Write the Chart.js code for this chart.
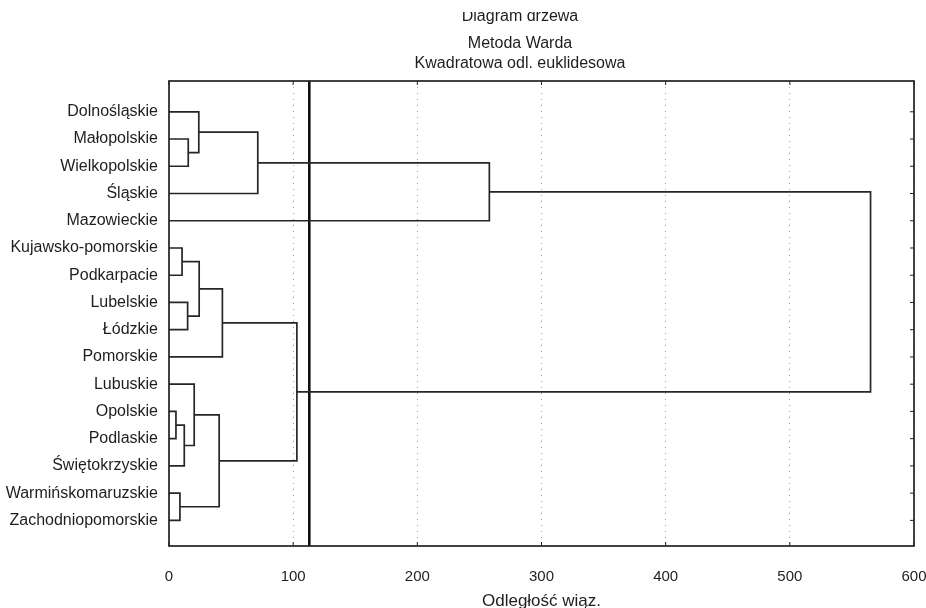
<!DOCTYPE html>
<html>
<head>
<meta charset="utf-8">
<script src="https://cdn.jsdelivr.net/npm/chart.js@4/dist/chart.umd.min.js"></script>
<style>
  body { margin: 0; background: #fff; }
  #wrap { width: 926px; height: 608px; position: relative; }
</style>
</head>
<body>
<div id="wrap"><canvas id="chart"></canvas></div>
<script>
// leaves, top to bottom
const leaves = ['Dolnośląskie', 'Małopolskie', 'Wielkopolskie', 'Śląskie', 'Mazowieckie',
    'Kujawsko-pomorskie', 'Podkarpacie', 'Lubelskie', 'Łódzkie', 'Pomorskie', 'Lubuskie',
    'Opolskie', 'Podlaskie', 'Świętokrzyskie', 'Warmińskomaruzskie', 'Zachodniopomorskie'];

// linkage: merge k creates node 16 + k
const mergeLeft = [11, 14, 5, 16, 7, 1, 10, 0, 18, 22, 24, 23, 26, 27, 29];
const mergeRight = [12, 15, 6, 13, 8, 2, 19, 21, 20, 17, 9, 3, 25, 4, 28];
const mergeHeight = [5.6, 8.8, 10.5, 12.3, 15.0, 15.5, 20.3, 24.0, 24.3, 40.4, 43.0, 71.5, 103, 258, 565];

const cutLevel = 113;
const xTicks = [0, 100, 200, 300, 400, 500, 600];

const titleLines = ['Diagram drzewa', 'Metoda Warda', 'Kwadratowa odl. euklidesowa'];
const xTitle = 'Odległość wiąz.';

const FONT = '"Liberation Sans", Arial, sans-serif';

// node position / height
const pos = leaves.map((_, i) => i);
const hgt = leaves.map(() => 0);
const datasets = [];

mergeLeft.forEach((l, k) => {
    const r = mergeRight[k];
    const h = mergeHeight[k];
    datasets.push({
        data: [
            { x: hgt[l], y: pos[l] },
            { x: h, y: pos[l] },
            { x: h, y: pos[r] },
            { x: hgt[r], y: pos[r] }
        ],
        borderColor: '#262626',
        borderWidth: 1.7
    });
    pos.push((pos[l] + pos[r]) / 2);
    hgt.push(h);
});

datasets.push({
    data: [{ x: cutLevel, y: -1.13 }, { x: cutLevel, y: 15.94 }],
    borderColor: '#111',
    borderWidth: 2.6
});

const framePlugin = {
    id: 'frame',
    afterDatasetsDraw(chart) {
        const { ctx, chartArea: a, scales } = chart;
        ctx.save();
        ctx.strokeStyle = '#222';
        ctx.lineWidth = 1.7;
        ctx.strokeRect(a.left, a.top, a.right - a.left, a.bottom - a.top);
        ctx.lineWidth = 1;
        ctx.beginPath();
        leaves.forEach((_, i) => {
            const y = scales.y.getPixelForValue(i);
            ctx.moveTo(a.right, y);
            ctx.lineTo(a.right - 4, y);
        });
        xTicks.forEach(v => {
            const x = scales.x.getPixelForValue(v);
            ctx.moveTo(x, a.top);
            ctx.lineTo(x, a.top + 4);
            ctx.moveTo(x, a.bottom);
            ctx.lineTo(x, a.bottom - 4);
        });
        ctx.stroke();
        ctx.restore();
    }
};

const titlePlugin = {
    id: 'titles',
    afterDraw(chart) {
        const ctx = chart.ctx;
        ctx.save();
        ctx.fillStyle = '#1e1e1e';
        ctx.font = '16px ' + FONT;
        ctx.textAlign = 'center';
        ctx.textBaseline = 'alphabetic';
        // first line is cut off at the top in the scan
        ctx.save();
        ctx.beginPath();
        ctx.rect(0, 12, chart.width, 20);
        ctx.clip();
        ctx.fillText(titleLines[0], 520, 21);
        ctx.restore();
        ctx.fillText(titleLines[1], 520, 48);
        ctx.fillText(titleLines[2], 520, 68);
        ctx.restore();
    }
};

new Chart(document.getElementById('chart'), {
    type: 'scatter',
    data: { datasets },
    options: {
        responsive: true,
        maintainAspectRatio: false,
        animation: false,
        showLine: true,
        elements: { point: { radius: 0, hoverRadius: 0 }, line: { tension: 0 } },
        layout: { padding: { top: 81, right: 12, left: 0, bottom: 0 } },
        plugins: {
            legend: { display: false },
            tooltip: { enabled: false }
        },
        scales: {
            x: {
                type: 'linear',
                min: 0,
                max: 600,
                afterBuildTicks: s => { s.ticks = xTicks.map(v => ({ value: v })); },
                afterFit: s => {
                    s.height = 62;
                    s.paddingLeft = 0;
                    s.paddingRight = 0;
                },
                ticks: {
                    color: '#1e1e1e',
                    padding: 22,
                    font: { family: FONT, size: 15 }
                },
                grid: { color: '#a0a0a0', drawTicks: false, lineWidth: 1 },
                border: { display: false, dash: [1, 5] },
                title: {
                    display: true,
                    text: xTitle,
                    color: '#1e1e1e',
                    padding: { top: 0, bottom: -4 },
                    font: { family: FONT, size: 17 }
                }
            },
            y: {
                type: 'linear',
                reverse: true,
                min: -1.13,
                max: 15.94,
                afterBuildTicks: s => { s.ticks = leaves.map((_, i) => ({ value: i })); },
                afterFit: s => { s.width = 169; },
                ticks: {
                    color: '#1e1e1e',
                    padding: 3,
                    autoSkip: false,
                    callback: v => leaves[v] ?? '',
                    font: { family: FONT, size: 16 }
                },
                grid: { display: false },
                border: { display: false }
            }
        }
    },
    plugins: [framePlugin, titlePlugin]
});
</script>
</body>
</html>
